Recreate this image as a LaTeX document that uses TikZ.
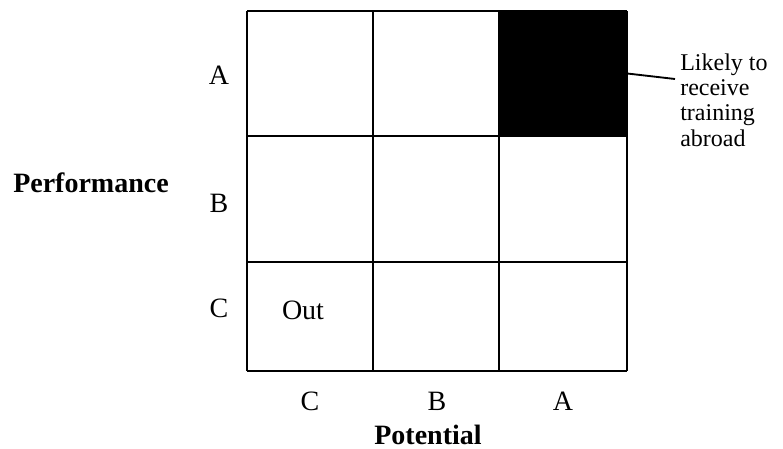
\documentclass[tikz,border=0pt]{standalone}
\usepackage{fontspec}
\setmainfont{Liberation Serif}
\usetikzlibrary{arrows.meta, positioning}

\begin{document}
\begin{tikzpicture}[>=Stealth, x=0.75pt, y=-0.75pt,
    font=\fontsize{21}{25}\selectfont,
    gridline/.style={line width=1.4pt},
    note/.style={font=\fontsize{18}{19}\selectfont, align=left, inner sep=0pt}]
  \useasboundingbox (0,0) rectangle (783,449);
  \node[fill=black, inner sep=0pt, minimum width=96pt, minimum height=93.75pt] (hot) at (563,73.5) {};
  \foreach \x in {247,373,499,627}
    \draw[gridline] (\x,11) -- (\x,371);
  \foreach \y in {11,136,262,371}
    \draw[gridline] (247,\y) -- (627,\y);
  \foreach \y/\l in {75/A, 203/B, 308/C}
    \node (perf\l) at (219,\y) {\l};
  \foreach \x/\l in {310/C, 437/B, 563/A}
    \node (pot\l) at (\x,401) {\l};
  \node[font=\fontsize{21}{25}\selectfont\bfseries] (perf) at (91,183) {Performance};
  \node[font=\fontsize{21}{25}\selectfont\bfseries] (pot) at (428,435) {Potential};
  \node (out) at (303,310) {Out};
  \node[note, anchor=west] (abroad) at (680,100) {Likely to\\receive\\training\\abroad};
  \coordinate (lead) at (675,79);
  \draw[gridline] (hot.east) -- (lead);
\end{tikzpicture}
\end{document}
